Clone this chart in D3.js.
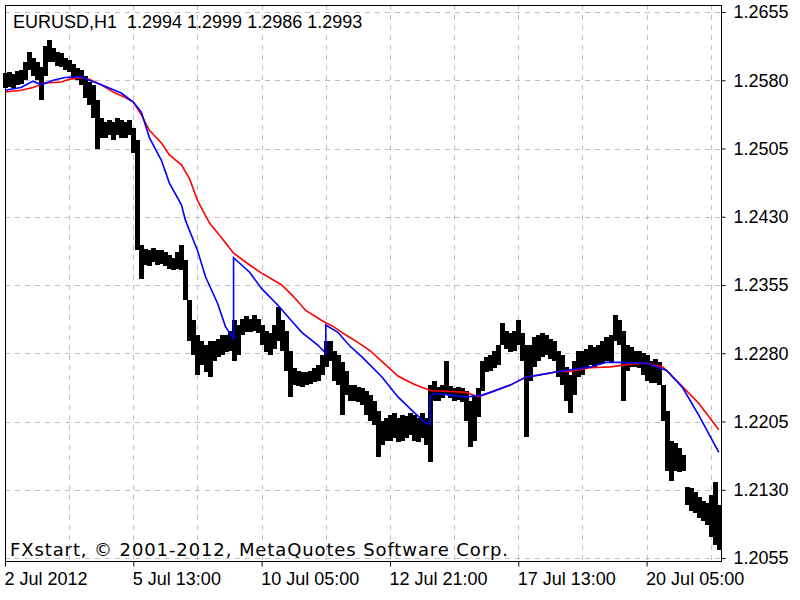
<!DOCTYPE html>
<html>
<head>
<meta charset="utf-8">
<script src="https://cdn.jsdelivr.net/npm/d3@7"></script>
<style>
  body { margin: 0; background: #fff; }
  svg text { font-family: "Liberation Sans", Arial, sans-serif; font-size: 18px; fill: #000; }
</style>
</head>
<body>
<script>
// header / footer texts
const symbol = "EURUSD,H1";
const lastBar = ["1.2994", "1.2999", "1.2986", "1.2993"];
const copyright = "FXstart, \u00a9 2001-2012, MetaQuotes Software Corp.";

// axes
const priceTicks = [1.2655, 1.2580, 1.2505, 1.2430, 1.2355, 1.2280, 1.2205, 1.2130, 1.2055];
const timeLabels = ["2 Jul 2012", "5 Jul 13:00", "10 Jul 05:00", "12 Jul 21:00", "17 Jul 13:00", "20 Jul 05:00"];
const timeLabelBars = [0, 32, 64, 96, 128, 160];

// price bars (one entry per 2 hours), high and low
const barHigh = [
  1.2588,1.2589,1.2587,1.2590,1.2591,1.2600,1.2611,1.2604,1.2600,1.2595,
  1.2618,1.2624,1.2615,1.2611,1.2610,1.2604,1.2602,1.2598,1.2594,1.2591,
  1.2585,1.2578,1.2575,1.2558,1.2538,1.2534,1.2536,1.2534,1.2538,1.2536,
  1.2534,1.2536,1.2528,1.2514,1.2399,1.2395,1.2393,1.2396,1.2393,1.2394,
  1.2391,1.2388,1.2385,1.2391,1.2399,1.2382,1.2338,1.2316,1.2300,1.2294,
  1.2289,1.2294,1.2294,1.2296,1.2300,1.2300,1.2305,1.2316,1.2311,1.2318,
  1.2321,1.2318,1.2322,1.2318,1.2311,1.2305,1.2302,1.2311,1.2331,1.2316,
  1.2305,1.2283,1.2264,1.2261,1.2259,1.2259,1.2261,1.2264,1.2267,1.2278,
  1.2294,1.2294,1.2283,1.2278,1.2270,1.2261,1.2245,1.2245,1.2243,1.2242,
  1.2239,1.2234,1.2228,1.2217,1.2206,1.2209,1.2212,1.2214,1.2209,1.2212,
  1.2211,1.2214,1.2212,1.2209,1.2214,1.2209,1.2245,1.2250,1.2243,1.2245,
  1.2272,1.2244,1.2242,1.2243,1.2242,1.2239,1.2228,1.2234,1.2242,1.2272,
  1.2276,1.2278,1.2283,1.2289,1.2313,1.2305,1.2302,1.2305,1.2316,1.2302,
  1.2289,1.2289,1.2298,1.2300,1.2302,1.2300,1.2296,1.2294,1.2283,1.2278,
  1.2265,1.2256,1.2272,1.2283,1.2283,1.2285,1.2289,1.2287,1.2289,1.2294,
  1.2298,1.2300,1.2322,1.2316,1.2305,1.2289,1.2287,1.2283,1.2283,1.2280,
  1.2278,1.2272,1.2274,1.2270,1.2245,1.2217,1.2184,1.2181,1.2176,1.2168,
  1.2133,1.2132,1.2127,1.2122,1.2118,1.2115,1.2124,1.2138,1.2113
];
const barLow = [
  1.2572,1.2573,1.2571,1.2575,1.2576,1.2580,1.2591,1.2585,1.2580,1.2558,
  1.2585,1.2600,1.2600,1.2596,1.2595,1.2591,1.2589,1.2582,1.2580,1.2575,
  1.2561,1.2553,1.2538,1.2505,1.2516,1.2517,1.2520,1.2514,1.2520,1.2517,
  1.2516,1.2520,1.2500,1.2393,1.2362,1.2377,1.2376,1.2380,1.2377,1.2378,
  1.2376,1.2373,1.2371,1.2373,1.2371,1.2338,1.2294,1.2278,1.2256,1.2267,
  1.2259,1.2254,1.2272,1.2276,1.2278,1.2281,1.2283,1.2272,1.2278,1.2300,
  1.2303,1.2303,1.2305,1.2302,1.2289,1.2281,1.2278,1.2285,1.2294,1.2283,
  1.2261,1.2232,1.2245,1.2244,1.2243,1.2245,1.2246,1.2248,1.2250,1.2256,
  1.2265,1.2272,1.2250,1.2245,1.2212,1.2234,1.2228,1.2228,1.2226,1.2223,
  1.2212,1.2206,1.2201,1.2166,1.2179,1.2184,1.2184,1.2187,1.2182,1.2184,
  1.2187,1.2190,1.2184,1.2182,1.2187,1.2179,1.2160,1.2228,1.2228,1.2231,
  1.2234,1.2231,1.2228,1.2229,1.2226,1.2206,1.2177,1.2184,1.2210,1.2239,
  1.2259,1.2261,1.2264,1.2267,1.2289,1.2285,1.2281,1.2283,1.2289,1.2272,
  1.2188,1.2250,1.2265,1.2272,1.2276,1.2278,1.2274,1.2272,1.2254,1.2245,
  1.2228,1.2214,1.2234,1.2254,1.2256,1.2265,1.2267,1.2265,1.2267,1.2269,
  1.2272,1.2270,1.2294,1.2289,1.2228,1.2261,1.2265,1.2265,1.2264,1.2256,
  1.2250,1.2247,1.2247,1.2245,1.2206,1.2151,1.2140,1.2151,1.2149,1.2151,
  1.2113,1.2107,1.2105,1.2099,1.2096,1.2091,1.2078,1.2069,1.2064
];

// slow moving average (red)
const redBars = [0,4,7,10,14,16,19,21,24,27,30,32,34,36,39,41,44,46,48,51,54,57,61,64,69,72,75,79,82,85,
  88,91,95,98,102,106,111,115,118,121,126,130,133,138,141,146,151,156,160,164,165,169,173,178];
const redMA = [1.2567,1.2569,1.2572,1.2577,1.2578,1.2581,1.2583,1.2581,1.2575,1.2567,
  1.2561,1.2556,1.2542,1.2525,1.2511,1.2498,1.2487,1.2472,1.2448,1.2423,
  1.2407,1.2390,1.2377,1.2368,1.2355,1.2342,1.2327,1.2316,1.2309,1.2300,
  1.2292,1.2283,1.2267,1.2255,1.2246,1.2239,1.2238,1.2237,1.2232,1.2237,
  1.2245,1.2254,1.2256,1.2260,1.2260,1.2264,1.2265,1.2268,1.2269,1.2265,
  1.2261,1.2243,1.2225,1.2196];

// fast moving average (blue)
const blueBars = [0,4,7,9,12,15,19,21,24,29,32,34,36,39,41,44,45,48,50,53,55,57,57,61,64,68,71,74,78,80,
  80,83,86,89,94,98,102,105,106,106,107,111,115,119,121,126,130,133,138,146,150,153,160,165,169,173,178];
const blueMA = [1.2569,1.2572,1.2579,1.2575,1.2580,1.2583,1.2584,1.2580,1.2575,1.2566,
  1.2556,1.2545,1.2517,1.2492,1.2467,1.2443,1.2426,1.2393,1.2364,1.2335,
  1.2309,1.2296,1.2385,1.2369,1.2351,1.2333,1.2318,1.2303,1.2289,1.2280,
  1.2311,1.2303,1.2288,1.2276,1.2254,1.2232,1.2215,1.2203,1.2202,1.2232,
  1.2236,1.2234,1.2232,1.2234,1.2237,1.2245,1.2254,1.2256,1.2260,1.2265,
  1.2270,1.2270,1.2269,1.2261,1.2242,1.2212,1.2171];

const width = 800;
const height = 600;
const plot = {left: 5, top: 5, right: 721, bottom: 561};

const svg = d3.select("body").append("svg")
    .attr("width", width)
    .attr("height", height);

const x = d3.scaleLinear().domain([0, 178]).range([5, 5 + 178 * 4.01]);
const y = d3.scaleLinear().domain([1.2055, 1.2655]).range([558, 12]);

// grid
const grid = svg.append("g")
    .attr("stroke", "#c0c0c0")
    .attr("stroke-dasharray", "5,5")
    .attr("shape-rendering", "crispEdges");

grid.selectAll(".hgrid").data(priceTicks).enter().append("line")
  .attr("x1", plot.left).attr("x2", plot.right)
  .attr("y1", d => Math.round(y(d)) + 0.5).attr("y2", d => Math.round(y(d)) + 0.5);

grid.selectAll(".vgrid").data(d3.range(16, 178, 16)).enter().append("line")
  .attr("x1", d => Math.round(x(d)) + 0.5).attr("x2", d => Math.round(x(d)) + 0.5)
  .attr("y1", plot.top).attr("y2", plot.bottom);

// price bars: each 2-hour bar spans its full slot so the bars merge like dense hourly bars
svg.append("g").selectAll("rect")
  .data(barHigh)
  .enter().append("rect")
  .attr("x", (d, i) => Math.round(x(i)) - 2)
  .attr("width", 5)
  .attr("y", d => Math.round(y(d)))
  .attr("height", (d, i) => Math.max(2, Math.round(y(barLow[i])) - Math.round(y(d))))
  .attr("fill", "#000")
  .attr("shape-rendering", "crispEdges");

// moving averages
const line = d3.line().x(d => x(d[0])).y(d => y(d[1]));

svg.append("path")
  .datum(redBars.map((b, i) => [b, redMA[i]]))
  .attr("d", line)
  .attr("fill", "none")
  .attr("stroke", "#ff0000")
  .attr("stroke-width", 1.6);

svg.append("path")
  .datum(blueBars.map((b, i) => [b, blueMA[i]]))
  .attr("d", line)
  .attr("fill", "none")
  .attr("stroke", "#0000ff")
  .attr("stroke-width", 1.6);

// frame
svg.append("rect")
  .attr("x", plot.left + 0.5).attr("y", plot.top + 0.5)
  .attr("width", plot.right - plot.left).attr("height", plot.bottom - plot.top)
  .attr("fill", "none")
  .attr("stroke", "#000")
  .attr("shape-rendering", "crispEdges");

// price axis
const yAxis = svg.append("g")
  .attr("transform", `translate(${plot.right + 0.5},0)`)
  .call(d3.axisRight(y).tickValues(priceTicks).tickFormat(d3.format(".4f")).tickSize(4).tickPadding(8));
yAxis.select(".domain").remove();
yAxis.attr("font-size", null).attr("font-family", null);
yAxis.selectAll("line").attr("stroke", "#000");

// time axis
const xAxis = svg.append("g")
  .attr("transform", `translate(0,${plot.bottom + 0.5})`)
  .call(d3.axisBottom(x).tickValues(timeLabelBars).tickFormat((d, i) => timeLabels[i]).tickSize(5).tickPadding(6));
xAxis.select(".domain").remove();
xAxis.attr("font-size", null).attr("font-family", null);
xAxis.selectAll("line").attr("stroke", "#000");
xAxis.selectAll("text").attr("text-anchor", "start").attr("x", -1);

// header and copyright
svg.append("text")
  .attr("x", 13).attr("y", 28)
  .attr("xml:space", "preserve")
  .text(symbol + "  " + lastBar.join(" "));

svg.append("text")
  .attr("x", 10).attr("y", 556)
  .attr("textLength", 498)
  .attr("lengthAdjust", "spacing")
  .style("font-family", "'DejaVu Sans', Verdana, sans-serif")
  .text(copyright);
</script>
</body>
</html>
